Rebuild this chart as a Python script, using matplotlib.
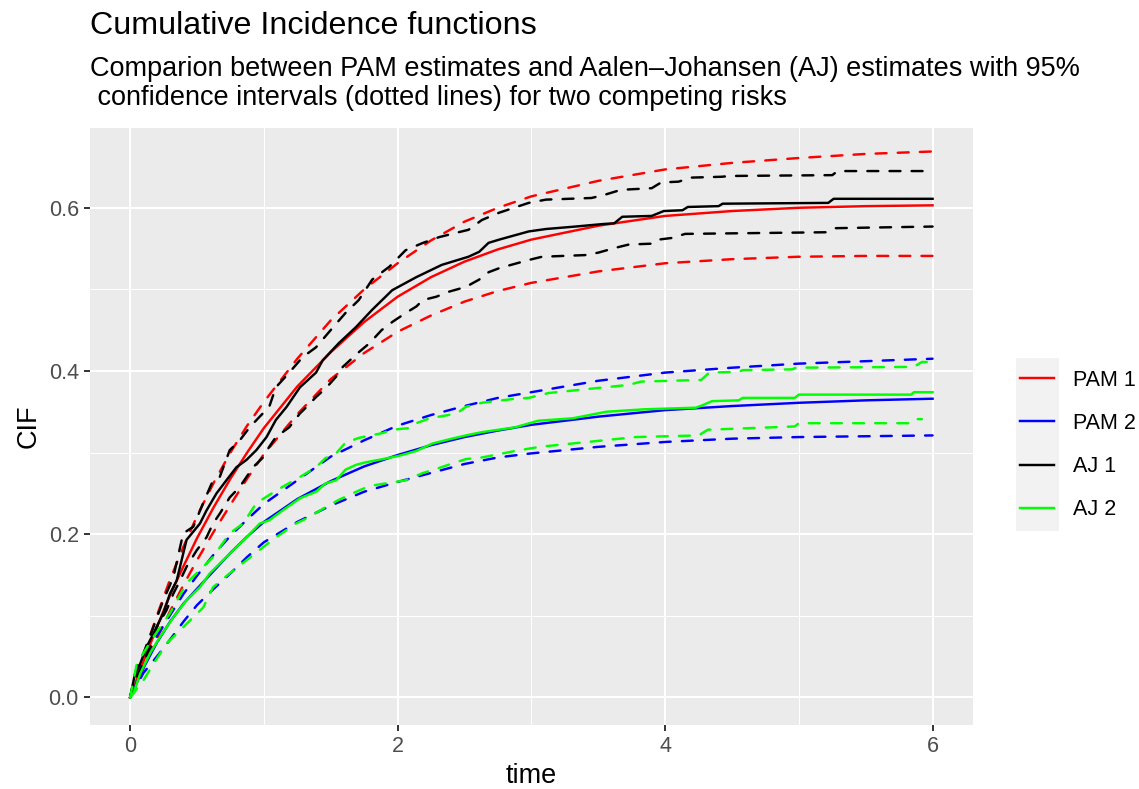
import matplotlib
matplotlib.use("Agg")
import matplotlib.pyplot as plt
from matplotlib.patches import Rectangle

# PAM estimates (smooth)
pam_time = [0, 0.1, 0.2, 0.3, 0.4, 0.5, 0.625, 0.75, 0.875, 1, 1.25, 1.5, 1.75,
            2, 2.25, 2.5, 2.75, 3, 3.5, 4, 4.5, 5, 5.5, 6]
pam1 = [0, 0.044, 0.086, 0.126, 0.161, 0.195, 0.233, 0.268, 0.300, 0.330, 0.381, 0.423, 0.460,
        0.491, 0.515, 0.534, 0.549, 0.561, 0.578, 0.590, 0.596, 0.600, 0.602, 0.603]
pam1_hi = [0, 0.052, 0.100, 0.145, 0.185, 0.222, 0.263, 0.300, 0.333, 0.362, 0.415, 0.462, 0.500,
           0.532, 0.560, 0.583, 0.600, 0.614, 0.633, 0.647, 0.655, 0.661, 0.666, 0.669]
pam1_lo = [0, 0.036, 0.072, 0.106, 0.138, 0.168, 0.203, 0.236, 0.268, 0.298, 0.347, 0.390, 0.422,
           0.448, 0.468, 0.485, 0.498, 0.508, 0.522, 0.532, 0.537, 0.540, 0.541, 0.541]
pam2 = [0, 0.036, 0.067, 0.093, 0.115, 0.133, 0.155, 0.177, 0.197, 0.215, 0.243, 0.265, 0.283,
        0.297, 0.309, 0.319, 0.327, 0.334, 0.344, 0.352, 0.357, 0.361, 0.364, 0.366]
pam2_hi = [0, 0.045, 0.075, 0.101, 0.127, 0.149, 0.175, 0.198, 0.218, 0.237, 0.266, 0.295, 0.315,
           0.333, 0.346, 0.357, 0.367, 0.374, 0.388, 0.398, 0.404, 0.409, 0.412, 0.415]
pam2_lo = [0, 0.030, 0.050, 0.071, 0.093, 0.113, 0.133, 0.152, 0.172, 0.190, 0.215, 0.235, 0.252,
           0.264, 0.275, 0.286, 0.294, 0.299, 0.307, 0.313, 0.317, 0.319, 0.320, 0.321]

# Aalen-Johansen estimates
aj1_t = [0, 0.037, 0.075, 0.124, 0.174, 0.248, 0.298, 0.348, 0.385, 0.422, 0.472, 0.522, 0.571,
         0.646, 0.72, 0.795, 0.87, 0.944, 1.02, 1.09, 1.17, 1.27, 1.39, 1.44, 1.56, 1.69, 1.81,
         1.96, 2.14, 2.33, 2.53, 2.61, 2.68, 2.76, 2.98, 3.11, 3.33, 3.53, 3.62, 3.68, 3.90, 3.99,
         4.13, 4.17, 4.40, 4.43, 5.22, 5.26, 6.0]
aj1 = [0, 0.029, 0.041, 0.062, 0.078, 0.103, 0.127, 0.143, 0.168, 0.193, 0.203, 0.213, 0.229,
       0.250, 0.266, 0.282, 0.291, 0.303, 0.319, 0.340, 0.356, 0.380, 0.398, 0.413, 0.434, 0.454,
       0.475, 0.499, 0.515, 0.530, 0.540, 0.546, 0.557, 0.561, 0.571, 0.574, 0.577, 0.580, 0.581,
       0.589, 0.590, 0.596, 0.597, 0.601, 0.602, 0.605, 0.606, 0.611, 0.611]
aj1_hi_t = [0, 0.05, 0.10, 0.174, 0.248, 0.323, 0.397, 0.472, 0.546, 0.62, 0.67, 0.745, 0.82,
            0.894, 0.969, 1.04, 1.09, 1.19, 1.29, 1.39, 1.52, 1.61, 1.71, 1.81, 1.94, 2.06, 2.19,
            2.31, 2.43, 2.53, 2.63, 2.76, 2.98, 3.11, 3.45, 3.55, 3.67, 3.90, 3.97, 4.1, 4.2, 4.42,
            4.49, 5.25, 5.29, 6.0]
aj1_hi = [0, 0.037, 0.054, 0.086, 0.119, 0.147, 0.201, 0.209, 0.238, 0.266, 0.270, 0.303, 0.315,
          0.331, 0.344, 0.356, 0.380, 0.398, 0.417, 0.429, 0.454, 0.471, 0.487, 0.512, 0.528,
          0.548, 0.557, 0.564, 0.569, 0.573, 0.585, 0.594, 0.606, 0.610, 0.612, 0.616, 0.622,
          0.624, 0.631, 0.632, 0.637, 0.638, 0.639, 0.640, 0.645, 0.645]
aj1_lo_t = [0, 0.037, 0.075, 0.149, 0.199, 0.273, 0.323, 0.373, 0.422, 0.497, 0.571, 0.62, 0.67,
            0.745, 0.82, 0.87, 0.919, 0.994, 1.04, 1.09, 1.19, 1.27, 1.32, 1.39, 1.47, 1.54, 1.59,
            1.71, 1.79, 1.88, 1.96, 2.06, 2.14, 2.19, 2.29, 2.38, 2.51, 2.61, 2.68, 2.76, 2.98,
            3.08, 3.40, 3.50, 3.63, 3.73, 3.90, 3.95, 4.05, 4.15, 5.20, 5.27, 6.0]
aj1_lo = [0, 0.021, 0.033, 0.061, 0.086, 0.107, 0.127, 0.143, 0.160, 0.180, 0.196, 0.213, 0.225,
          0.245, 0.258, 0.270, 0.282, 0.294, 0.307, 0.319, 0.331, 0.348, 0.356, 0.368, 0.380,
          0.393, 0.405, 0.423, 0.434, 0.450, 0.460, 0.471, 0.479, 0.487, 0.491, 0.497, 0.503,
          0.512, 0.521, 0.526, 0.536, 0.540, 0.542, 0.545, 0.551, 0.555, 0.556, 0.561, 0.563,
          0.568, 0.570, 0.575, 0.577]

aj2_t = [0, 0.025, 0.075, 0.149, 0.224, 0.323, 0.422, 0.522, 0.596, 0.67, 0.77, 0.87, 0.969,
         1.04, 1.14, 1.27, 1.39, 1.46, 1.54, 1.61, 1.69, 1.76, 1.89, 2.01, 2.14, 2.26, 2.38, 2.51,
         2.63, 2.88, 3.05, 3.31, 3.56, 3.84, 4.23, 4.28, 4.35, 4.55, 4.58, 4.97, 5.0, 5.84, 5.86,
         6.0]
aj2 = [0, 0.005, 0.029, 0.054, 0.074, 0.098, 0.119, 0.135, 0.152, 0.164, 0.180, 0.196, 0.213,
       0.217, 0.229, 0.244, 0.252, 0.262, 0.266, 0.279, 0.285, 0.288, 0.292, 0.296, 0.302, 0.311,
       0.316, 0.321, 0.325, 0.331, 0.339, 0.342, 0.350, 0.353, 0.355, 0.358, 0.363, 0.364, 0.367,
       0.367, 0.371, 0.371, 0.374, 0.374]
aj2_hi_t = [0, 0.05, 0.174, 0.298, 0.422, 0.522, 0.62, 0.745, 0.845, 0.944, 1.04, 1.14, 1.27,
            1.39, 1.46, 1.54, 1.61, 1.71, 1.89, 1.96, 2.09, 2.14, 2.24, 2.38, 2.46, 2.51, 2.63,
            2.88, 2.98, 3.13, 3.43, 3.73, 3.82, 4.27, 4.33, 4.55, 4.58, 4.95, 4.98, 5.86, 5.92,
            6.0]
aj2_hi = [0, 0.041, 0.074, 0.103, 0.140, 0.156, 0.172, 0.201, 0.213, 0.238, 0.248, 0.258, 0.270,
          0.282, 0.293, 0.299, 0.312, 0.318, 0.324, 0.328, 0.330, 0.336, 0.342, 0.346, 0.350,
          0.356, 0.361, 0.366, 0.367, 0.373, 0.378, 0.383, 0.387, 0.389, 0.398, 0.399, 0.401,
          0.402, 0.404, 0.405, 0.411, 0.411]
aj2_lo_t = [0, 0.025, 0.1, 0.174, 0.273, 0.348, 0.447, 0.546, 0.62, 0.745, 0.87, 0.994, 1.09,
            1.24, 1.34, 1.46, 1.56, 1.69, 1.79, 1.94, 2.06, 2.19, 2.29, 2.38, 2.51, 2.63, 2.88,
            3.06, 3.48, 3.78, 4.25, 4.32, 4.97, 5.0, 5.84, 5.87, 5.92]
aj2_lo = [0, 0.005, 0.021, 0.041, 0.066, 0.078, 0.094, 0.110, 0.135, 0.152, 0.168, 0.184, 0.196,
          0.213, 0.221, 0.233, 0.242, 0.252, 0.259, 0.263, 0.266, 0.275, 0.280, 0.285, 0.292,
          0.294, 0.302, 0.307, 0.314, 0.319, 0.321, 0.328, 0.332, 0.336, 0.336, 0.341, 0.341]

labels = ["PAM 1", "PAM 2", "AJ 1", "AJ 2"]
colors = ["#FF0000", "#0000FF", "#000000", "#00FF00"]

plt.rcParams['font.family'] = ['Liberation Sans', 'DejaVu Sans']

fig = plt.figure(figsize=(11.39, 7.89), dpi=100)
ax = fig.add_axes([0.079, 0.081, 0.775, 0.757])
ax.set_facecolor("#EBEBEB")
for s in ax.spines.values():
    s.set_visible(False)

lw = 1.75
dkw = dict(lw=lw, dashes=(4.5, 4.6), dash_capstyle='round')
ax.plot(pam_time, pam1, color=colors[0], lw=lw, label=labels[0])
ax.plot(pam_time, pam1_hi, color=colors[0], **dkw)
ax.plot(pam_time, pam1_lo, color=colors[0], **dkw)
ax.plot(pam_time, pam2, color=colors[1], lw=lw, label=labels[1])
ax.plot(pam_time, pam2_hi, color=colors[1], **dkw)
ax.plot(pam_time, pam2_lo, color=colors[1], **dkw)
ax.plot(aj1_t, aj1, color=colors[2], lw=lw, label=labels[2])
ax.plot(aj1_hi_t, aj1_hi, color=colors[2], **dkw)
ax.plot(aj1_lo_t, aj1_lo, color=colors[2], **dkw)
ax.plot(aj2_t, aj2, color=colors[3], lw=lw, label=labels[3])
ax.plot(aj2_hi_t, aj2_hi, color=colors[3], **dkw)
ax.plot(aj2_lo_t, aj2_lo, color=colors[3], **dkw)

ax.set_xlim(-0.3, 6.3)
ax.set_ylim(-0.034, 0.698)
ax.set_xticks([0, 2, 4, 6])
ax.set_xticks([1, 3, 5], minor=True)
ax.set_yticks([0.0, 0.2, 0.4, 0.6])
ax.set_yticks([0.1, 0.3, 0.5], minor=True)
ax.set_yticklabels(["0.0", "0.2", "0.4", "0.6"])
ax.grid(which='major', color='white', lw=1.5)
ax.grid(which='minor', color='white', lw=0.75)
ax.set_axisbelow(True)
ax.tick_params(which='major', length=4, width=1.4, color='#333333',
               labelcolor='#4D4D4D', labelsize=15.5, pad=4)
ax.tick_params(which='minor', length=0)

ax.set_xlabel("time", fontsize=19.5, labelpad=4)
ax.set_ylabel("CIF", fontsize=19.5, labelpad=5)

fig.text(0.079, 1 - 34 / 789, "Cumulative Incidence functions", fontsize=23.2,
         ha='left', va='baseline')
fig.text(0.079, 1 - 76 / 789,
         "Comparion between PAM estimates and Aalen\u2013Johansen (AJ) estimates with 95%",
         fontsize=19.5, ha='left', va='baseline')
fig.text(0.079, 1 - 105 / 789,
         " confidence intervals (dotted lines) for two competing risks",
         fontsize=19.5, ha='left', va='baseline')

# legend key background
fig.add_artist(Rectangle((1016 / 1139, 1 - 531 / 789), 43 / 1139, 173 / 789,
                         transform=fig.transFigure, facecolor='#F2F2F2', edgecolor='none'))
leg = fig.legend(loc='center left', bbox_to_anchor=(1001 / 1139, 1 - 445 / 789),
                 frameon=False, fontsize=15.5, handlelength=1.58, handletextpad=0.88,
                 labelspacing=1.03)

plt.savefig("out.png", dpi=100)
plt.close()
